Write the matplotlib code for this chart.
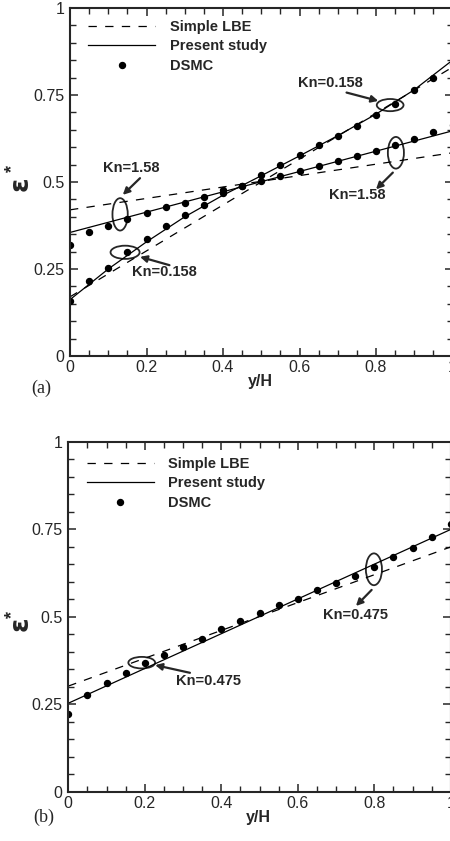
"""Two-panel stress profile comparison: Simple LBE vs present study vs DSMC."""
import matplotlib
matplotlib.use('Agg')

import matplotlib.pyplot as plt
import numpy as np
from matplotlib.patches import Ellipse
from matplotlib.lines import Line2D
from matplotlib.ticker import MultipleLocator, FuncFormatter

plt.rcParams['font.family'] = ['Liberation Sans', 'DejaVu Sans']
plt.rcParams['lines.scale_dashes'] = False

INK = '#262626'
DASH = (0, (6, 6))

# --- data, panel (a) ---
x_dsmc = np.round(np.arange(0, 1.0001, 0.05), 2)
dsmc_a_0158 = [0.159, 0.215, 0.254, 0.298, 0.335, 0.374, 0.404, 0.434, 0.467, 0.489,
               0.520, 0.549, 0.577, 0.605, 0.633, 0.661, 0.692, 0.723, 0.763, 0.799, 0.840]
dsmc_a_158 = [0.319, 0.355, 0.375, 0.394, 0.410, 0.427, 0.441, 0.458, 0.476, 0.489,
              0.503, 0.518, 0.532, 0.546, 0.560, 0.576, 0.590, 0.605, 0.625, 0.643, 0.664]

x_line = [0.0, 0.1, 0.2, 0.3, 0.4, 0.5, 0.6, 0.7, 0.8, 0.9, 1.0]
present_a_0158 = [0.162, 0.250, 0.328, 0.400, 0.462, 0.518, 0.575, 0.633, 0.695, 0.765, 0.850]
x_ends = [0.0, 1.0]
present_a_158 = [0.355, 0.647]
lbe_a_0158 = [0.170, 0.830]
lbe_a_158 = [0.420, 0.584]

# --- data, panel (b) ---
dsmc_b_0475 = [0.221, 0.276, 0.311, 0.340, 0.369, 0.391, 0.415, 0.437, 0.464, 0.488,
               0.510, 0.534, 0.552, 0.576, 0.597, 0.618, 0.643, 0.671, 0.697, 0.728, 0.765]
present_b_0475 = [0.253, 0.750]
lbe_b_0475 = [0.302, 0.700]

# annotations: (text, text_xy, arrow_tail, arrow_head, ellipse_center, ellipse_wh)
notes_a = [
    ('Kn=0.158', (0.680, 0.784), (0.723, 0.757), (0.806, 0.733), (0.837, 0.721), (0.070, 0.035)),
    ('Kn=1.58', (0.752, 0.463), (0.844, 0.527), (0.800, 0.479), (0.852, 0.584), (0.042, 0.091)),
    ('Kn=1.58', (0.161, 0.539), (0.183, 0.511), (0.138, 0.463), (0.131, 0.407), (0.040, 0.093)),
    ('Kn=0.158', (0.246, 0.242), (0.260, 0.261), (0.183, 0.285), (0.144, 0.298), (0.076, 0.038)),
]
notes_b = [
    ('Kn=0.475', (0.750, 0.505), (0.793, 0.577), (0.752, 0.531), (0.799, 0.636), (0.042, 0.091)),
    ('Kn=0.475', (0.367, 0.317), (0.318, 0.340), (0.227, 0.362), (0.192, 0.369), (0.070, 0.033)),
]

fig = plt.figure(figsize=(4.5, 8.41), dpi=100)
ax_a = fig.add_axes([70 / 450, (841 - 356) / 841, 382.5 / 450, 348 / 841])
ax_b = fig.add_axes([68.3 / 450, (841 - 791.7) / 841, 382.5 / 450, 349.7 / 841])


def style_axes(ax):
    ax.set_xlim(0, 1)
    ax.set_ylim(0, 1)
    ax.xaxis.set_major_locator(MultipleLocator(0.2))
    ax.xaxis.set_minor_locator(MultipleLocator(0.05))
    ax.yaxis.set_major_locator(MultipleLocator(0.25))
    ax.yaxis.set_minor_locator(MultipleLocator(0.05))
    fmt = FuncFormatter(lambda v, p: '%g' % round(v, 2))
    ax.xaxis.set_major_formatter(fmt)
    ax.yaxis.set_major_formatter(fmt)
    ax.tick_params(which='both', direction='in', top=True, right=True, color=INK,
                   labelcolor=INK, labelsize=11.5)
    ax.tick_params(which='major', length=6, width=1.1)
    ax.tick_params(which='minor', length=4, width=1.0)
    ax.tick_params(axis='y', pad=4)
    ax.tick_params(axis='x', pad=3)
    for sp in ax.spines.values():
        sp.set_linewidth(1.5)
        sp.set_color(INK)
    ax.set_xlabel('y/H', fontsize=11.5, fontweight='bold', color=INK, va='center')
    ax.xaxis.set_label_coords(0.497, -0.074)


def annotate(ax, notes):
    for txt, txy, tail, head, ec, wh in notes:
        ax.text(txy[0], txy[1], txt, ha='center', va='center', fontsize=10.5,
                fontweight='bold', color=INK)
        ax.annotate('', xy=head, xytext=tail,
                    arrowprops=dict(arrowstyle='-|>', lw=1.6, color=INK,
                                    mutation_scale=10, shrinkA=0, shrinkB=0))
        ax.add_patch(Ellipse(ec, wh[0], wh[1], fill=False, ec=INK, lw=1.3))


def legend(ax, y0):
    handles = [Line2D([], [], color='k', lw=0.9, linestyle=DASH),
               Line2D([], [], color='k', lw=0.9),
               Line2D([], [], color='k', lw=0, marker='o', ms=4.3)]
    leg = ax.legend(handles, ['Simple LBE', 'Present study', 'DSMC'],
                    loc='upper left', bbox_to_anchor=(0.048, y0), frameon=False,
                    handlelength=4.6, handletextpad=1.0, labelspacing=0.38,
                    borderpad=0, borderaxespad=0,
                    prop={'weight': 'bold', 'size': 10.5})
    for t in leg.get_texts():
        t.set_color(INK)


# panel (a)
style_axes(ax_a)
ax_a.plot(x_ends, lbe_a_0158, color='k', lw=0.9, linestyle=DASH)
ax_a.plot(x_ends, lbe_a_158, color='k', lw=0.9, linestyle=DASH)
ax_a.plot(x_line, present_a_0158, color='k', lw=0.9)
ax_a.plot(x_ends, present_a_158, color='k', lw=0.9)
ax_a.plot(x_dsmc, dsmc_a_0158, 'o', color='k', ms=4.3)
ax_a.plot(x_dsmc, dsmc_a_158, 'o', color='k', ms=4.3)
annotate(ax_a, notes_a)
legend(ax_a, 0.966)

# panel (b)
style_axes(ax_b)
ax_b.plot(x_ends, lbe_b_0475, color='k', lw=0.9, linestyle=DASH)
ax_b.plot(x_ends, present_b_0475, color='k', lw=0.9)
ax_b.plot(x_dsmc, dsmc_b_0475, 'o', color='k', ms=4.3)
annotate(ax_b, notes_b)
legend(ax_b, 0.958)

# y labels (rotated epsilon with superscript star) and panel tags
for ey, sy in [(184, 168), (624, 614)]:
    fig.text(20.5 / 450, 1 - ey / 841, 'ε', rotation=90, ha='center', va='center',
             fontsize=19, fontweight='bold', color=INK, family=['DejaVu Sans'])
    fig.text(13 / 450, 1 - sy / 841, '*', rotation=90, ha='center', va='center',
             fontsize=13, fontweight='bold', color=INK)
fig.text(41 / 450, 1 - 388 / 841, '(a)', ha='center', va='center', fontsize=13,
         family=['Liberation Serif'], color=INK)
fig.text(44 / 450, 1 - 817 / 841, '(b)', ha='center', va='center', fontsize=13,
         family=['Liberation Serif'], color=INK)

fig.savefig('out.png', dpi=100, facecolor='white')
